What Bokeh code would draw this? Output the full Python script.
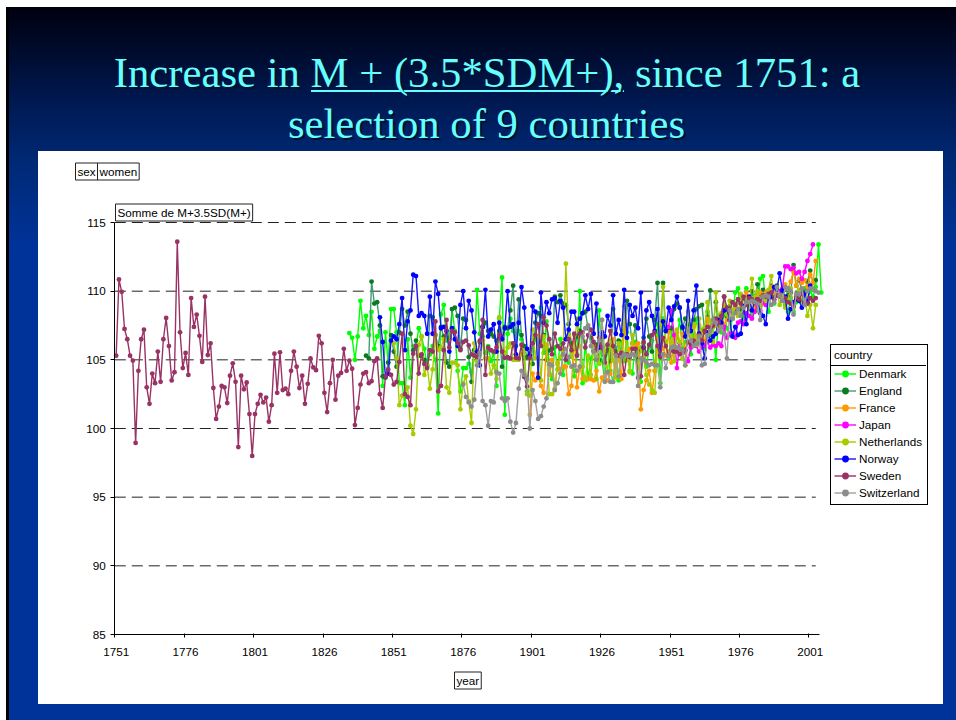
from bokeh.plotting import figure
from bokeh.models import (Label, Legend, LegendItem, FixedTicker, Range1d)
from bokeh.embed import file_html
from bokeh.resources import INLINE

SWEDEN_START = 1751
sweden = [105.3,110.85,109.95,107.25,106.5,105.3,104.95,98.95,104.2,106.5,107.2,103.0,101.8,104.0,103.3,105.6,103.4,106.5,108.05,106.0,
103.5,104.1,113.6,107.0,104.4,105.5,103.9,109.5,107.4,108.3,106.75,104.85,109.6,105.35,106.2,102.95,100.7,101.6,103.1,103.0,
101.85,103.85,104.75,103.4,98.65,103.85,102.85,103.35,101.05,98.0,101.05,101.8,102.45,101.9,102.25,100.5,101.7,105.45,102.6,105.55,
102.8,102.9,102.5,104.2,105.6,104.5,102.95,103.85,101.8,103.25,105.1,104.45,104.25,106.75,106.2,102.6,101.2,103.3,105.0,102.1,
103.85,104.05,105.8,104.2,104.95,104.35,100.25,101.5,103.2,104.0,104.1,103.3,103.45,104.9,105.1,102.5,101.5,103.8,104.3,103.9,
103.2,103.4,104.85,106.9,102.5,102.3,101.7,105.45,106.0,104.0,105.4,104.7,104.4,105.7,105.6,107.8,102.7,103.1,105.7,107.9,
105.9,107.1,107.0,106.2,105.7,106.3,106.4,106.05,105.4,105.3,105.2,106.4,107.9,103.9,105.9,105.7,105.6,105.9,106.8,105.6,
105.15,105.2,105.1,106.2,105.15,105.1,106.1,103.75,103.05,105.15,106.2,106.8,107.6,106.0,108.1,
107.5,106.5,105.4,106.9,106.0,105.8,106.2,105.0,106.5,105.7,106.9,105.3,106.9,107.0,105.9,106.8,107.2,106.3,105.7,106.6,
105.9,104.8,106.1,107.1,106.0,105.4,105.3,105.5,103.9,105.4,105.2,105.8,105.8,103.7,103.8,106.3,105.4,106.1,106.8,107.0,
106.0,105.2,106.6,106.0,105.3,105.7,105.6,105.6,105.4,105.7,105.7,106.3,106.1,106.4,106.2,106.8,106.4,107.1,107.4,107.3,
107.5,108.0,107.7,108.2,109.6,108.8,108.5,109.2,109.0,109.4,109.1,109.6,109.0,109.5,109.4,109.2,109.4,109.3,109.7,109.6,
109.8,109.9,109.4,109.7,109.7,109.3,109.5,109.2,109.1,108.9,109.6,109.4,109.8,109.2,109.1,109.5,109.3,109.5]

DENMARK_START = 1835
denmark = [106.95,106.6,105.0,106.7,109.3,107.3,108.2,106.8,108.5,105.8,106.7,107.1,103.1,107.0,104.8,108.7,108.7,107.0,103.3,103.3,
101.7,106.5,103.7,106.0,106.0,107.3,106.7,105.8,104.5,105.4,106.0,105.0,101.1,108.3,109.0,106.4,106.6,108.7,107.1,104.2,
102.7,104.4,104.4,104.7,104.1,105.7,110.1,106.9,106.7,105.5,106.0,104.9,105.5,103.1,108.0,111.0,101.0,106.9,108.0,107.1,
106.8,107.1,106.5,105.2,102.7,105.5,105.7,106.5,106.2,108.8,105.5,107.8,
104.6,103.6,105.9,104.3,106.5,103.9,105.2,104.8,106.1,103.8,105.4,110.0,103.3,106.3,103.6,105.1,105.7,103.6,108.6,104.9,
103.5,106.0,104.2,103.4,105.6,103.5,106.3,104.9,107.0,104.2,104.0,106.3,105.0,103.4,106.2,104.5,105.9,106.4,104.2,107.6,
103.3,108.0,106.3,105.1,107.1,105.6,106.6,107.9,105.7,106.3,107.6,105.4,106.8,108.0,106.2,107.2,105.8,108.5,106.7,107.4,
105.0,108.2,107.0,108.5,107.3,106.8,108.1,109.9,110.2,108.4,108.0,110.2,108.8,108.1,109.7,108.6,110.9,111.1,109.2,108.5,
109.8,109.1,110.3,109.7,110.0,109.0,108.5,109.5,108.5,109.2,109.8,109.3,110.2,109.4,110.0,109.6,110.3,113.4,109.9]

ENGLAND_START = 1841
england = [105.3,105.1,110.7,109.1,109.2,107.5,103.8,103.7,104.8,106.8,105.6,104.5,107.0,108.7,107.5,108.5,106.9,105.7,106.4,105.3,
105.3,105.0,104.6,108.2,108.1,106.8,106.0,107.4,106.7,104.8,104.5,108.7,108.8,108.2,105.8,108.0,107.9,105.2,103.4,105.7,
105.0,106.3,107.4,107.7,107.1,106.9,106.7,106.4,107.1,104.5,107.4,107.3,108.6,110.4,106.0,109.4,106.8,106.0,105.2,105.4,
104.7,107.7,108.4,108.2,106.8,105.0,105.7,105.8,109.6,109.2,109.7,109.1,109.0,107.6,106.2,105.8,106.7,107.1,108.4,108.5,
107.3,106.6,105.6,106.1,105.0,106.5,105.3,105.7,104.9,108.7,105.6,106.4,105.2,107.1,109.3,107.6,106.2,107.5,105.2,105.7,
106.6,108.0,106.7,105.6,107.9,110.6,106.0,110.6,107.1,107.3,107.3,108.7,109.1,108.8,107.3,108.0,107.6,106.2,107.9,108.7,
108.9,109.0,107.0,108.1,110.05,107.5,109.2,107.3,108.1,109.6,108.2,108.9,108.0,108.5,109.4,108.7,109.5,109.3,108.9,110.0,
109.1,110.5,109.7,110.1,109.4,109.8,110.4,109.6,110.4,109.6,110.0,110.3,109.7,109.9,111.9,110.4,110.8,110.1,109.9,110.7,
111.5,110.6,110.8]

FRANCE_START = 1900
france = [101.0,104.0,103.5,104.0,103.1,102.6,106.1,103.9,105.0,102.8,104.8,104.3,104.5,104.5,102.5,103.1,106.8,103.0,104.5,103.6,
103.7,103.6,103.6,103.5,104.2,102.7,103.7,103.8,103.5,104.0,106.5,104.2,105.2,103.6,107.6,105.0,105.8,106.2,106.0,106.2,
101.4,102.8,103.5,104.2,102.6,104.2,106.5,106.3,105.8,105.3,107.0,104.8,106.6,107.0,105.9,106.9,105.5,107.1,106.7,107.4,
106.6,107.5,107.0,106.3,108.0,107.1,107.8,107.5,107.1,108.2,107.6,107.9,108.6,108.0,108.9,108.4,109.1,108.5,109.9,108.9,
109.3,108.7,109.6,109.9,109.1,109.9,109.5,110.3,109.9,110.3,109.8,110.1,110.5,110.2,110.7,111.4,110.4,110.9,110.6,110.8,
110.3,111.2,110.6,112.2]

JAPAN_START = 1950
japan = [107.4,108.6,106.8,104.4,106.2,105.5,105.7,104.9,105.9,106.2,106.0,105.6,105.9,106.0,106.3,105.9,106.1,106.0,106.2,106.0,
107.4,106.6,106.9,106.9,106.6,107.7,107.8,107.6,108.4,108.2,108.0,108.5,109.0,108.6,109.2,109.0,109.5,109.9,109.4,109.7,
110.0,110.2,111.8,111.8,111.6,111.7,111.3,111.4,110.9,111.4,112.2,112.7,113.4]

NETHERLANDS_START = 1851
netherlands = [106.2,105.1,101.7,102.4,102.5,103.0,100.2,99.6,101.4,106.1,106.7,103.9,104.6,102.9,104.3,106.8,105.7,105.9,106.5,103.0,
102.6,104.8,104.8,104.6,101.4,103.3,103.8,102.0,100.4,106.2,104.9,104.6,106.4,105.1,105.1,104.0,104.6,103.6,108.1,106.9,
105.5,105.9,106.2,105.0,105.0,105.0,105.4,105.7,102.5,102.4,107.2,105.1,106.7,103.5,106.7,105.9,102.5,102.5,102.9,104.7,
105.2,105.7,112.0,106.7,105.2,105.9,108.0,106.0,104.5,103.5,105.3,103.9,106.0,105.2,104.7,107.9,105.6,104.1,106.4,105.0,
103.7,106.2,104.9,108.9,105.5,104.1,106.8,105.3,104.4,105.9,105.1,103.9,103.2,102.8,102.6,105.9,107.6,110.3,106.2,105.5,
106.4,104.9,107.2,106.3,105.1,104.6,108.5,106.8,107.6,106.1,108.0,106.7,107.4,109.2,107.8,106.3,109.9,107.9,108.4,109.0,
108.3,109.3,108.6,109.1,108.2,109.8,108.9,109.4,108.7,110.9,109.5,110.0,108.9,109.7,109.3,110.1,111.1,109.6,110.2,109.0,
109.6,108.8,109.4,110.2,108.8,109.5,110.1,109.2,109.8,108.2,109.0,107.3,109.0]

NORWAY_START = 1846
norway = [108.1,106.3,103.8,104.0,106.4,106.7,106.5,107.6,109.5,105.7,107.8,108.6,111.2,111.1,108.2,108.4,108.2,106.9,109.6,106.9,
110.7,109.8,107.3,107.4,107.1,105.6,107.3,106.5,106.0,109.0,110.0,107.3,109.3,108.6,107.0,105.6,104.6,107.4,110.1,106.7,
107.2,107.6,105.6,107.7,106.5,107.3,110.0,107.4,107.6,105.4,107.7,110.3,108.8,105.8,105.3,108.9,108.5,103.7,109.9,107.7,
109.2,108.4,109.4,109.5,107.7,109.3,108.8,106.5,107.2,108.5,108.5,107.6,108.0,108.4,109.7,
108.7,109.8,106.9,109.1,105.9,107.0,106.7,108.2,107.5,109.7,106.9,107.9,106.8,110.1,106.6,109.0,108.2,108.8,107.3,109.9,
105.9,108.6,109.2,108.2,107.1,108.7,105.3,107.8,107.1,108.8,107.9,108.9,109.6,108.8,107.4,106.7,109.3,107.1,108.6,110.4,
106.9,106.2,105.1,107.0,106.4,106.7,106.9,107.9,107.7,108.6,108.7,107.9,106.7,107.4,106.8,106.9,108.9,107.6,109.6,108.6,
109.2,109.4,108.4,108.2,107.6,109.7,109.6,110.3,110.1,111.3,110.05,109.6,108.0,108.7,109.2,109.4,109.3,108.8,109.8,109.2,110.4]

SWITZERLAND_START = 1876
switzerland = [103.2,102.3,101.9,101.6,102.1,104.6,105.5,102.0,101.7,100.2,102.0,101.9,104.1,104.0,102.2,102.0,102.2,100.5,99.7,100.4,
102.9,104.2,103.9,103.6,100.0,102.8,102.0,100.7,100.9,101.6,102.2,104.7,104.6,102.8,103.3,104.0,105.4,105.8,105.2,104.5,
104.6,104.2,104.5,106.7,107.3,107.5,
106.0,105.6,105.0,106.4,107.9,103.4,104.1,103.4,103.4,105.3,103.8,105.2,105.4,105.3,105.3,105.4,105.3,103.1,105.1,105.0,
104.8,104.6,104.7,104.6,104.6,103.0,105.4,104.4,105.3,105.9,106.0,105.9,105.8,105.7,104.6,107.1,106.4,106.0,106.2,106.7,
104.6,104.7,106.8,107.1,107.9,107.7,107.1,107.4,106.9,105.1,108.6,108.0,108.4,108.7,108.2,108.8,109.2,109.2,109.3,109.2,
109.1,107.9,109.6,109.7,109.6,109.0,109.2,110.3,109.7,109.3,110.3,110.2,110.0,108.3,109.8,109.8,110.2,109.0,110.0,110.2,
110.2,110.0,109.9]

tick_years = [1751, 1776, 1801, 1826, 1851, 1876, 1901, 1926, 1951, 1976, 2001]
y_ticks = [85, 90, 95, 100, 105, 110, 115]

series = [
    ("Denmark", DENMARK_START, denmark, "#00ff00", "#00ff00"),
    ("England", ENGLAND_START, england, "#3f9b74", "#0b7a22"),
    ("France", FRANCE_START, france, "#ff9900", "#ff9900"),
    ("Japan", JAPAN_START, japan, "#ff00ff", "#ff00ff"),
    ("Netherlands", NETHERLANDS_START, netherlands, "#a6cc00", "#a6cc00"),
    ("Norway", NORWAY_START, norway, "#1414ff", "#0000ff"),
    ("Sweden", SWEDEN_START, sweden, "#993366", "#993366"),
    ("Switzerland", SWITZERLAND_START, switzerland, "#a0a0a0", "#8c8c8c"),
]

FONT = "Liberation Sans"
TITLE = "#66ffff"
SMALL = 11.7
W, H = 950, 713
OX, OY = 6, 7  # page position of the figure

# the frame fills the figure; these two scales put the plot where the reference has it
PX_PER_YEAR = 2.776
PX_PER_UNIT = 13.733
X_EDGE_PX, X_EDGE = 114.3, 1750.5
Y_BASE_PX, Y_BASE = 634.0, 85.0
x_start = X_EDGE + (OX - X_EDGE_PX) / PX_PER_YEAR
x_end = X_EDGE + (OX + W - X_EDGE_PX) / PX_PER_YEAR
y_start = Y_BASE - (OY + H - Y_BASE_PX) / PX_PER_UNIT
y_end = Y_BASE + (Y_BASE_PX - OY) / PX_PER_UNIT


def layer(color, x, y, w, h):
    return f"linear-gradient({color},{color}) {x - OX}px {y - OY}px / {w}px {h}px no-repeat"


p = figure(width=W, height=H, output_backend="svg", toolbar_location=None,
           x_range=Range1d(x_start, x_end), y_range=Range1d(y_start, y_end),
           min_border=0, background_fill_color=None, border_fill_color=None, outline_line_color=None)
p.styles = {"margin-left": f"{OX}px", "margin-top": f"{OY}px",
            "background": ",".join([
                layer(TITLE, 311, 90, 313, 2),          # title underline
                layer("#000000", 830, 365, 96, 1),      # legend header rule
                layer("#ffffff", 38, 151, 905, 553),    # white panel
                layer("#000000", 6, 7, 3, 713),         # dark left strip
                "linear-gradient(to bottom,#00000f 0px,#000a2a 40px,#001a55 100px,#002a78 160px,#003399 240px,#003399 100%)",
            ])}


def page_label(x, y, text, size, color="black", font=FONT, align="left", **kw):
    return Label(x=x - OX, y=y - OY, x_units="canvas", y_units="canvas", text=text,
                 text_font=font, text_font_size=f"{size}px", text_color=color, text_align=align,
                 text_baseline="middle", **kw)


for dx, col in ((2, "#00112e"), (0, TITLE)):
    p.add_layout(page_label(486.5 + dx, 72 + dx, "Increase in M + (3.5*SDM+), since 1751: a", 42.7, col,
                            "Liberation Serif", "center"))
    p.add_layout(page_label(486 + dx, 123 + dx, "selection of 9 countries", 42.7, col,
                            "Liberation Serif", "center"))

BOX = dict(background_fill_color="white", background_fill_alpha=1, border_line_color="#222222",
           border_line_alpha=1, border_line_width=1, padding=2)
p.add_layout(page_label(75, 171, "sex", SMALL, **BOX))
p.add_layout(page_label(97, 171, "women", SMALL, **BOX))
p.add_layout(page_label(115, 212, "Somme de M+3.5SD(M+)", SMALL, **BOX))
p.add_layout(page_label(454, 680, "year", SMALL, **BOX))

grid_from, grid_to = 1750.5, 2003.0
grid_vals = y_ticks[1:]
p.segment(x0=[grid_from] * len(grid_vals), x1=[grid_to] * len(grid_vals), y0=grid_vals, y1=grid_vals,
          line_color="#222222", line_width=1, line_dash="11 6")

items = []
for name, start, vals, lc, mc in series:
    xs = [start + i for i in range(len(vals))]
    r1 = p.line(xs, vals, line_color=lc, line_width=1.4)
    r2 = p.scatter(xs, vals, marker="circle", size=4.8, fill_color=mc, line_color=mc, line_width=0)
    items.append(LegendItem(label=name, renderers=[r1, r2]))

legend = Legend(items=items, title="country", location=(830 - OX, OY + H - 505), margin=0, padding=3,
                spacing=0, label_height=17, glyph_height=17, glyph_width=22, label_standoff=3, label_width=65,
                label_text_font=FONT, label_text_font_size=f"{SMALL}px", label_text_color="black", title_text_font=FONT,
                title_text_font_size=f"{SMALL}px", title_text_font_style="normal", title_text_color="black", title_standoff=4,
                background_fill_alpha=0, border_line_color="black", border_line_width=1, border_line_alpha=1)
p.add_layout(legend, "center")

p.xgrid.visible = False
p.ygrid.visible = False

ax = p.xaxis[0]
ax.fixed_location = Y_BASE
ax.bounds = (X_EDGE, 2004.5)
ax.ticker = FixedTicker(ticks=tick_years, minor_ticks=[y - 0.5 for y in tick_years])
ax.major_tick_out = 0
ax.major_tick_in = 0
ax.minor_tick_out = 3
ax.minor_tick_in = 1
ax.minor_tick_line_color = "black"
ax.major_label_standoff = 10
ay = p.yaxis[0]
ay.fixed_location = X_EDGE
ay.bounds = (Y_BASE, 115)
ay.ticker = FixedTicker(ticks=y_ticks, minor_ticks=[])
ay.major_tick_out = 4
ay.major_tick_in = 0
ay.major_label_standoff = 5
for a in (ax, ay):
    a.axis_line_color = "black"
    a.major_tick_line_color = "black"
    a.major_label_text_font = FONT
    a.major_label_text_font_size = f"{SMALL}px"
    a.major_label_text_color = "black"

open("out.html", "w").write(file_html(p, INLINE))
